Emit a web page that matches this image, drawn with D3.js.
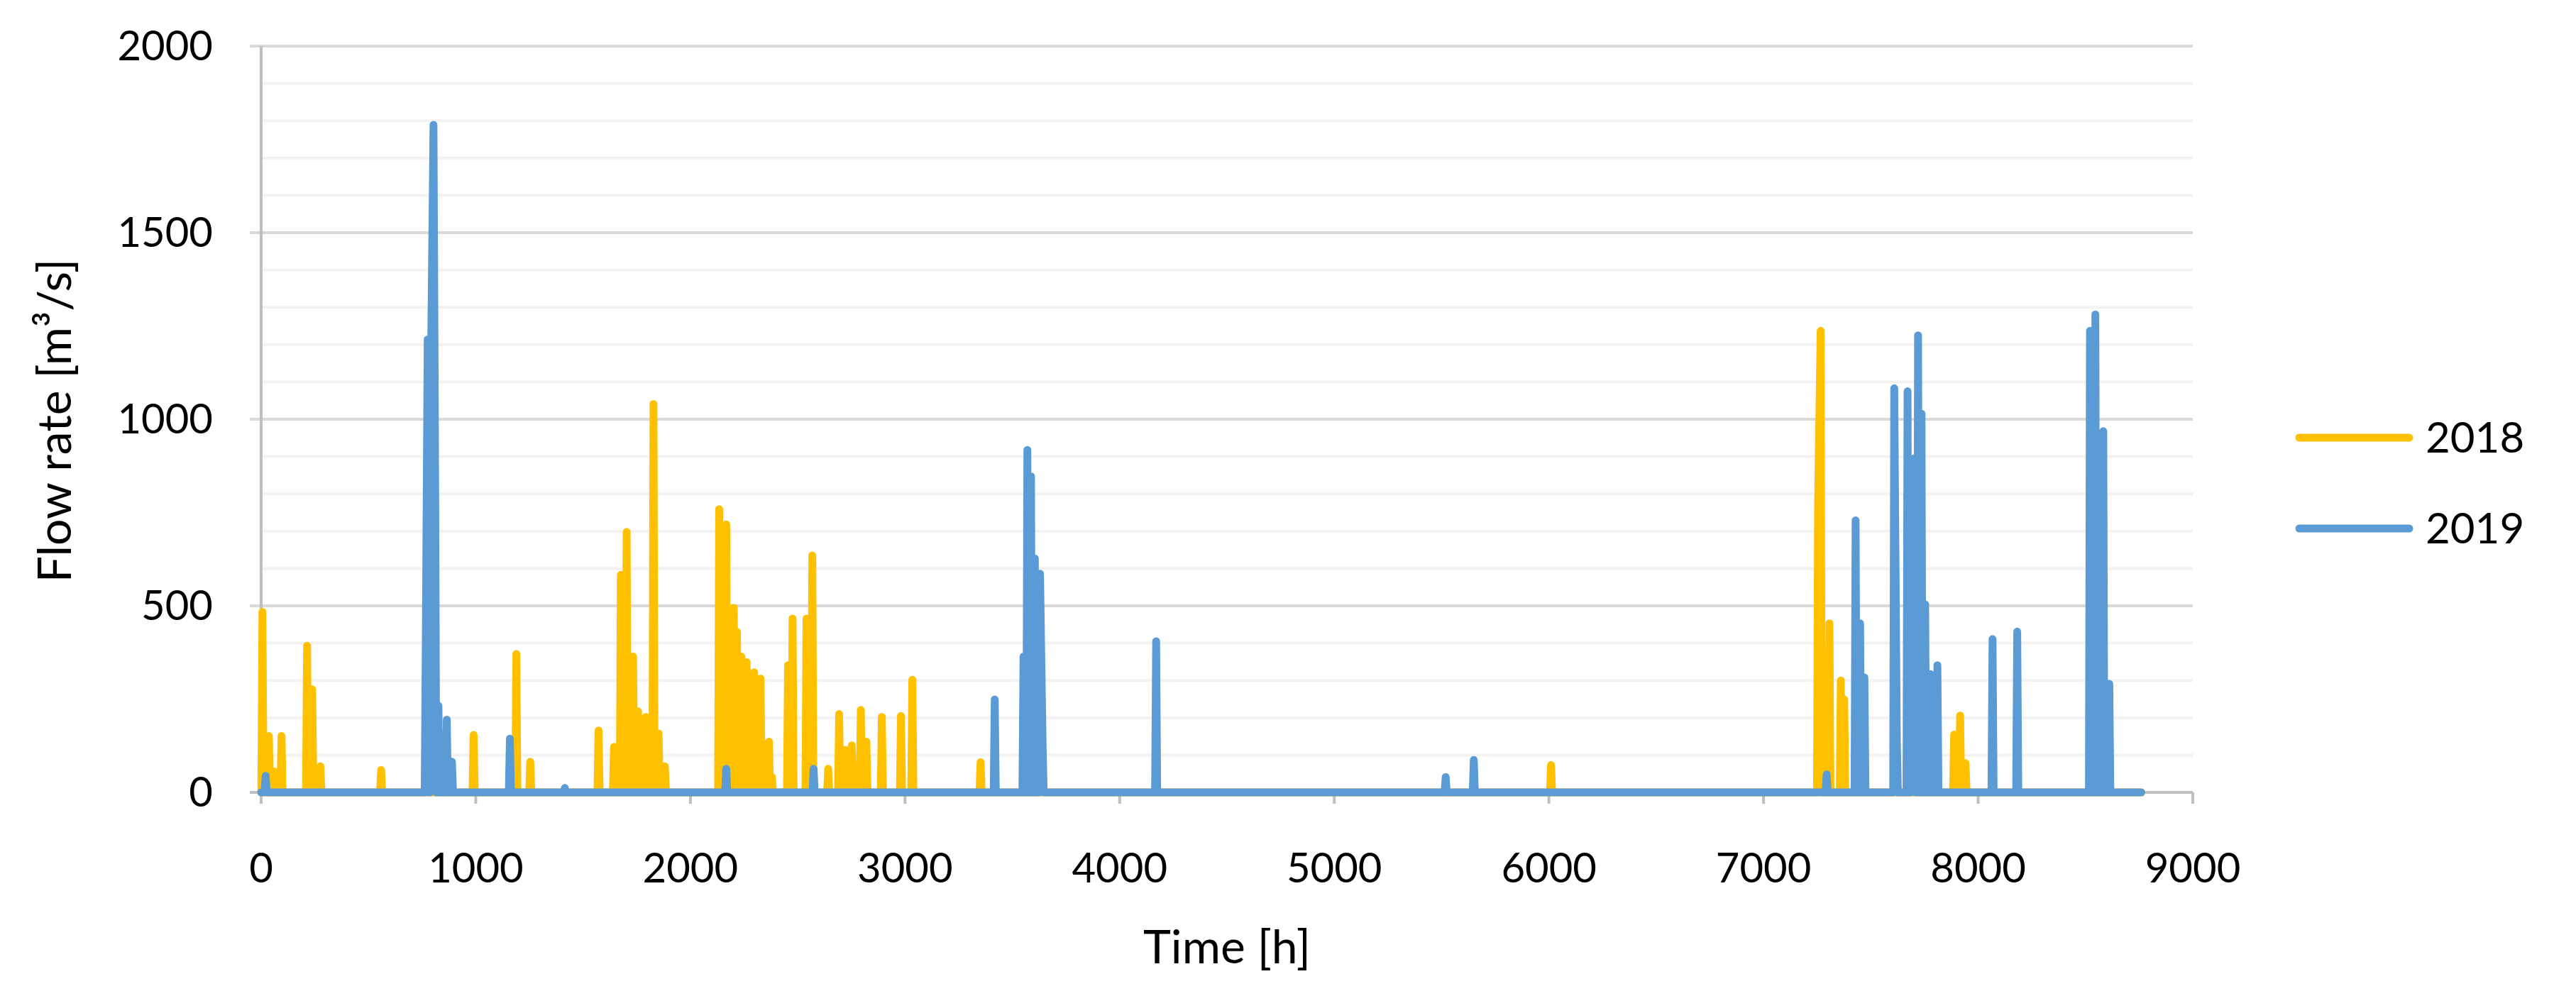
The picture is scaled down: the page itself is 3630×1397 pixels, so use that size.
<!DOCTYPE html>
<html><head><meta charset="utf-8">
<script src="https://cdn.jsdelivr.net/npm/d3@7"></script>
<style>body{margin:0;background:#fff}svg{font-family:Lato,"Open Sans",sans-serif}</style>
</head><body>
<svg id="chart" width="3630" height="1397"></svg>
<script>
// peak readings [hour, m3/s]; flow is ~0 between events
var peaks2018 = [[6,484],[36,151],[60,56],[95,151],[214,393],[238,276],[276,70],[559,60],[990,154],[1189,371],[1254,82],
  [1572,166],[1644,122],[1676,583],[1703,698],[1733,364],[1756,217],[1792,202],[1828,1041],[1852,158],[1881,70],
  [2134,759],[2167,718],[2202,495],[2217,430],[2238,364],[2262,349],[2297,322],[2327,305],[2366,136],[2380,41],
  [2455,341],[2476,466],[2541,466],[2568,635],[2642,63],[2693,210],[2722,114],[2752,126],[2794,221],[2820,136],
  [2892,202],[2981,205],[3034,302],[3352,81],[6010,73],[7254,760],[7266,1237],[7307,453],[7360,300],[7376,249],
  [7888,155],[7916,206],[7941,78],[8570,53]];
var peaks2019 = [[21,44],[767,393],[776,1214],[791,1126],[803,1789],[811,803],[826,232],[865,195],[889,82],[1159,144],
  [1415,12],[2167,63],[2574,63],[3418,249],[3552,364],[3570,918],[3587,847],[3605,627],[3629,586],[3641,129],
  [4170,405],[5519,41],[5650,87],[7294,48],[7429,729],[7450,453],[7470,308],[7609,1083],[7621,147],[7671,1075],
  [7691,504],[7703,896],[7720,1225],[7736,1015],[7753,504],[7777,317],[7810,341],[8067,411],[8182,431],
  [8521,1237],[8546,1281],[8562,419],[8583,968],[8611,291]];
var seriesNames = ["2018", "2019"];
var colors = ["#FFC000", "#5B9BD5"];
var xTicks = d3.range(0, 9001, 1000);
var yTicks = [0, 500, 1000, 1500, 2000];

function withBaseline(p) {
  var out = [[0, 0]];
  p.forEach(function(d, i) {
    var prev = i ? p[i-1][0] : -100;
    if (d[0] - prev > 12) out.push([Math.max(0, d[0]-5), 0]);
    out.push(d);
    var next = i < p.length-1 ? p[i+1][0] : 99999;
    if (next - d[0] > 12) out.push([d[0]+5, 0]);
  });
  out.push([8760, 0]);
  return out;
}

var svg = d3.select("#chart");
var x = d3.scaleLinear().domain([0, 9000]).range([368, 3090]);
var y = d3.scaleLinear().domain([0, 2000]).range([1117, 65]);

svg.selectAll(".minor").data(d3.range(100, 2001, 100).filter(function(v){return v % 500;}))
  .enter().append("line").attr("x1", x(0)).attr("x2", x(9000))
  .attr("y1", y).attr("y2", y).attr("stroke", "#f2f2f2").attr("stroke-width", 4);
svg.selectAll(".major").data(yTicks.slice(1))
  .enter().append("line").attr("x1", x(0)-16).attr("x2", x(9000))
  .attr("y1", y).attr("y2", y).attr("stroke", "#d9d9d9").attr("stroke-width", 4);

svg.append("line").attr("x1", x(0)).attr("x2", x(0)).attr("y1", y(2000)).attr("y2", y(0))
  .attr("stroke", "#bfbfbf").attr("stroke-width", 4);
svg.append("line").attr("x1", x(0)-16).attr("x2", x(9000)).attr("y1", y(0)).attr("y2", y(0))
  .attr("stroke", "#bfbfbf").attr("stroke-width", 4);
svg.selectAll(".xt").data(xTicks).enter().append("line")
  .attr("x1", x).attr("x2", x).attr("y1", y(0)).attr("y2", y(0)+16)
  .attr("stroke", "#bfbfbf").attr("stroke-width", 4);

svg.selectAll(".xl").data(xTicks).enter().append("text")
  .attr("x", x).attr("y", 1244).attr("text-anchor", "middle").attr("font-size", 58).text(String);
svg.selectAll(".yl").data(yTicks).enter().append("text")
  .attr("x", 300).attr("y", function(d){return y(d)+20;}).attr("text-anchor", "end")
  .attr("font-size", 58).text(String);

var line = d3.line().x(function(d){return x(d[0]);}).y(function(d){return y(d[1]);});
[peaks2018, peaks2019].forEach(function(p, i) {
  svg.append("path").attr("d", line(withBaseline(p))).attr("fill", "none")
    .attr("stroke", colors[i]).attr("stroke-width", 11)
    .attr("stroke-linejoin", "round").attr("stroke-linecap", "round");
});

svg.append("text").attr("x", 1729).attr("y", 1358).attr("text-anchor", "middle")
  .attr("font-size", 66).text("Time [h]");
svg.append("text").attr("transform", "translate(100,593) rotate(-90)").attr("text-anchor", "middle")
  .attr("font-size", 66).text("Flow rate [m³/s]");

seriesNames.forEach(function(n, i) {
  var ly = 617 + i*128;
  svg.append("line").attr("x1", 3240).attr("x2", 3395).attr("y1", ly).attr("y2", ly)
    .attr("stroke", colors[i]).attr("stroke-width", 11).attr("stroke-linecap", "round");
  svg.append("text").attr("x", 3418).attr("y", ly+21).attr("font-size", 60).text(n);
});
</script>
</body></html>
